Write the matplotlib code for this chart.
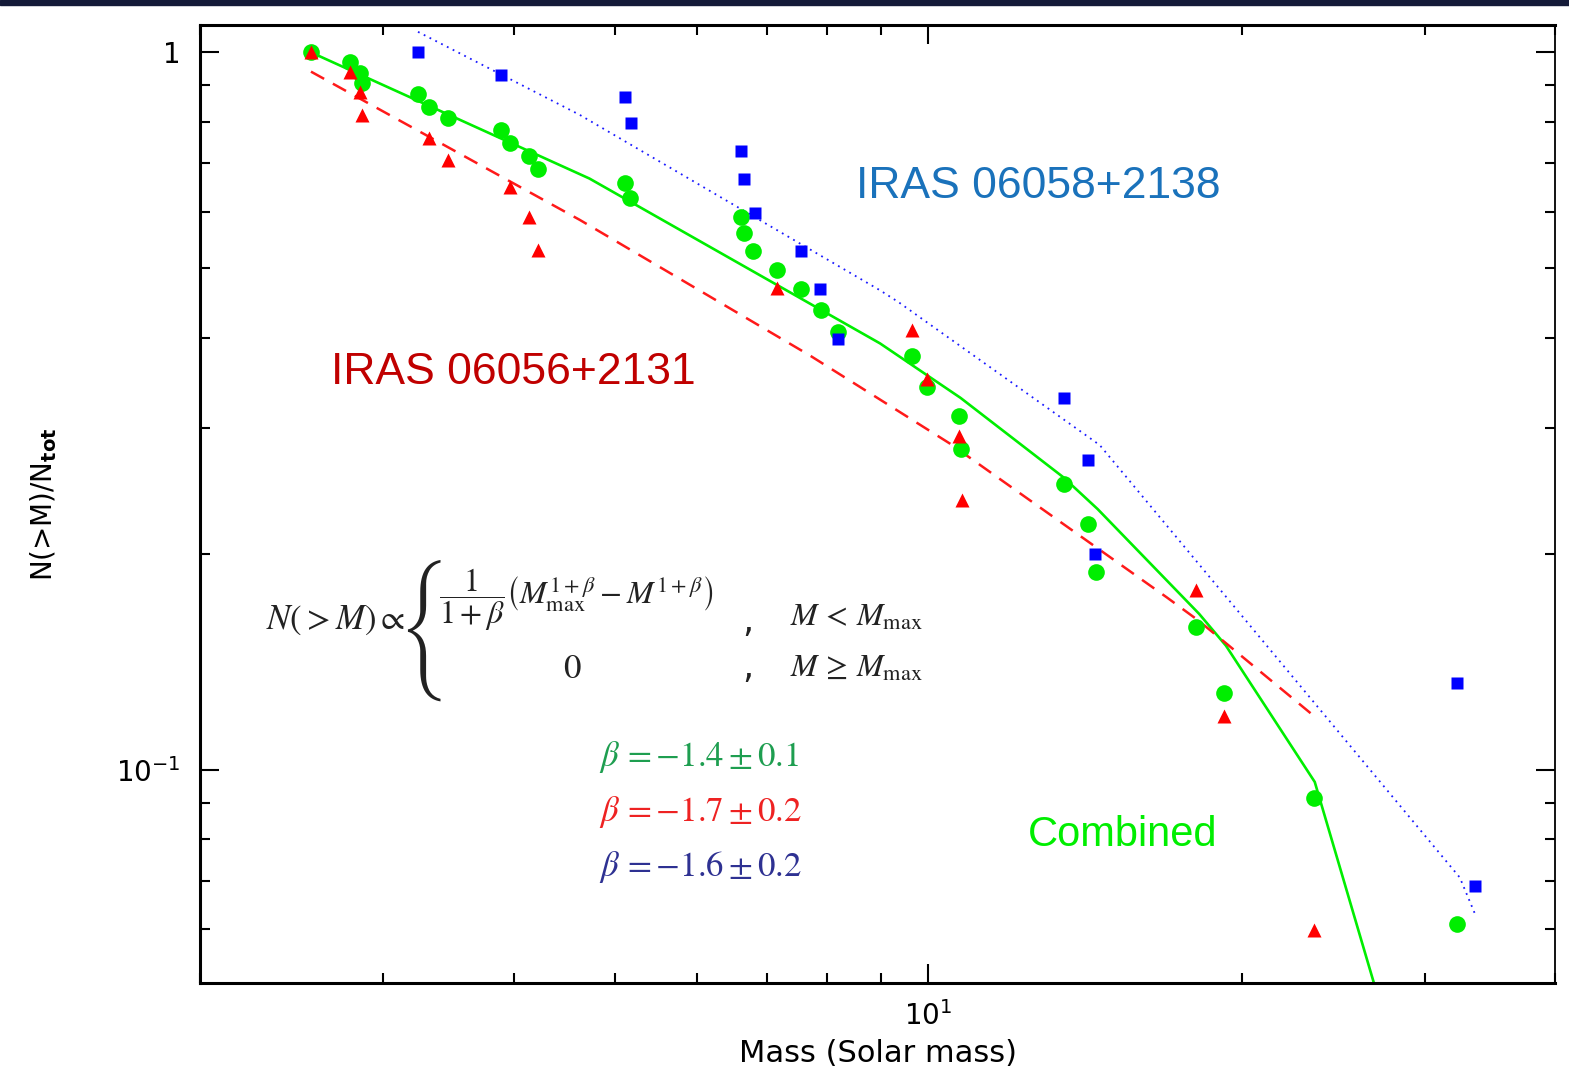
import matplotlib
matplotlib.use("Agg")
import matplotlib.pyplot as plt
from matplotlib.ticker import FuncFormatter, NullFormatter, LogLocator
from matplotlib.patches import Rectangle

# ---------------- data ----------------
comb_mass = [2.556, 2.788, 2.849, 2.859, 3.238, 3.320, 3.458, 3.888, 3.968, 4.139,
             4.225, 5.116, 5.173, 6.607, 6.655, 6.794, 7.154, 7.548, 7.889, 8.197,
             9.652, 9.98, 10.71, 10.76, 13.50, 14.24, 14.48, 18.07, 19.22, 23.44, 32.19]
comb_frac = [1.0, 0.969, 0.937, 0.906, 0.876, 0.840, 0.809, 0.779, 0.748, 0.717,
             0.687, 0.658, 0.627, 0.590, 0.560, 0.529, 0.498, 0.468, 0.438, 0.408,
             0.378, 0.342, 0.311, 0.280, 0.250, 0.220, 0.189, 0.158, 0.128, 0.0915, 0.0610]

red_mass = [2.556, 2.788, 2.849, 2.859, 3.320, 3.458, 3.968, 4.139, 4.225,
            7.154, 9.652, 9.98, 10.71, 10.77, 18.07, 19.22, 23.44]
red_frac = [1.0, 0.940, 0.880, 0.819, 0.759, 0.708, 0.649, 0.590, 0.530,
            0.470, 0.410, 0.351, 0.292, 0.238, 0.178, 0.119, 0.0598]

blue_mass = [3.238, 3.888, 5.116, 5.18, 6.607, 6.655, 6.819, 7.553, 7.879, 8.197,
             13.51, 14.25, 14.47, 32.21, 33.52]
blue_frac = [1.0, 0.929, 0.866, 0.798, 0.729, 0.667, 0.598, 0.528, 0.468, 0.399,
             0.330, 0.270, 0.200, 0.132, 0.0690]

comb_fit_mass = [2.556, 4.73, 8.99, 10.74, 13.47, 14.54, 18.20, 19.31, 23.50, 32.21]
comb_fit_frac = [1.0, 0.667, 0.393, 0.330, 0.256, 0.231, 0.165, 0.149, 0.0962, 0.0203]

red_fit_mass = [2.556, 4.631, 7.70, 8.79, 10.49, 16.94, 18.16, 19.33, 23.44]
red_fit_frac = [0.940, 0.584, 0.378, 0.335, 0.285, 0.174, 0.1616, 0.150, 0.119]

blue_fit_mass = [3.238, 4.631, 8.99, 9.358, 14.61, 32.38, 33.47]
blue_fit_frac = [1.068, 0.818, 0.466, 0.449, 0.2836, 0.0708, 0.0631]

x_range = (2.0, 40.0)
y_range = (0.0505, 1.091)
tick_labels = {1.0: "1", 0.1: r"$10^{-1}$", 10.0: r"$10^{1}$"}

# ---------------- figure ----------------
W, H = 1569, 1068
fig = plt.figure(figsize=(W / 100, H / 100), dpi=100)
fig.patches.append(Rectangle((0, 1 - 5 / H), 1, 5 / H, transform=fig.transFigure,
                             color="#141a38", zorder=0))

ax = fig.add_axes([200 / W, 1 - 982.8 / H, 1355.4 / W, 957.6 / H])
ax.set_xscale("log")
ax.set_yscale("log")
ax.set_xlim(*x_range)
ax.set_ylim(*y_range)

ax.plot(comb_fit_mass, comb_fit_frac, "-", color="#00ee00", lw=1.9, zorder=2)
ax.plot(red_fit_mass, red_fit_frac, "--", color="#ff1a1a", lw=1.8, dashes=(6, 4), zorder=2)
ax.plot(blue_fit_mass, blue_fit_frac, ":", color="#1a1aff", lw=1.3, dashes=(1.0, 2.6), zorder=2)

ax.plot(comb_mass, comb_frac, "o", color="#00ee00", ms=12, mec="none", zorder=3)
ax.plot(red_mass, red_frac, "^", color="#ff0000", ms=10, mec="none", zorder=4)
ax.plot(blue_mass, blue_frac, "s", color="#0000ff", ms=8.5, mec="none", zorder=5)

# ticks
for axis in (ax.xaxis, ax.yaxis):
    axis.set_major_locator(LogLocator(base=10))
    axis.set_minor_locator(LogLocator(base=10, subs=range(2, 10)))
    axis.set_minor_formatter(NullFormatter())
    axis.set_major_formatter(FuncFormatter(lambda v, p: tick_labels.get(round(v, 6), "")))
ax.tick_params(which="both", direction="in", top=True, right=True, colors="black",
               labelsize=20)
ax.tick_params(which="major", length=14, width=1.5)
ax.tick_params(which="minor", length=7, width=1.5)
ax.tick_params(axis="y", pad=14)
ax.tick_params(axis="x", pad=13)
for s in ("left", "bottom", "top"):
    ax.spines[s].set_linewidth(2.2)
ax.spines["right"].set_linewidth(1.3)

ax.set_xlabel("Mass (Solar mass)", fontsize=22, labelpad=6)
ax.set_ylabel(r"N(>M)/N$_{\mathbf{tot}}$", fontsize=20, labelpad=41)


def fx(px):
    return px / W


def fy(py):
    return 1 - py / H


# labels
fig.text(fx(1038), fy(186), "IRAS 06058+2138", color="#1a72bb", fontsize=32,
         family="Liberation Sans", ha="center", va="center")
fig.text(fx(513), fy(373), "IRAS 06056+2131", color="#c00000", fontsize=32,
         family="Liberation Sans", ha="center", va="center")
fig.text(fx(1123), fy(835), "Combined", color="#00ee00", fontsize=30,
         family="Liberation Sans", ha="center", va="center")

# formula
ink = "#222222"
ff = dict(math_fontfamily="stix", color=ink, va="center")
fig.text(fx(266), fy(620), r"$N\left(>M\right)\propto$", fontsize=25, ha="left", **ff)
fig.text(fx(424), fy(630), "{", family="STIXSizeFourSym", fontsize=33, color=ink,
         ha="center", va="center")
fig.text(fx(576), fy(600),
         r"$\dfrac{1}{1+\beta}\left(M_{\rm max}^{1+\beta}-M^{1+\beta}\right)$",
         fontsize=23, ha="center", **ff)
fig.text(fx(572), fy(668), r"$0$", fontsize=25, ha="center", **ff)
fig.text(fx(742), fy(622), ",", fontsize=25, ha="left", **ff)
fig.text(fx(742), fy(668), ",", fontsize=25, ha="left", **ff)
fig.text(fx(790), fy(617), r"$M\,<\,M_{\rm max}$", fontsize=23, ha="left", **ff)
fig.text(fx(790), fy(668), r"$M\,\geq\,M_{\rm max}$", fontsize=23, ha="left", **ff)

bf = dict(math_fontfamily="stix", fontsize=25, va="center", ha="left")
fig.text(fx(599), fy(757), r"$\beta\,=-1.4\pm 0.1$", color="#1e9e50", **bf)
fig.text(fx(599), fy(812), r"$\beta\,=-1.7\pm 0.2$", color="#ee2222", **bf)
fig.text(fx(599), fy(867), r"$\beta\,=-1.6\pm 0.2$", color="#2e3192", **bf)

fig.savefig("out.png", dpi=100)
